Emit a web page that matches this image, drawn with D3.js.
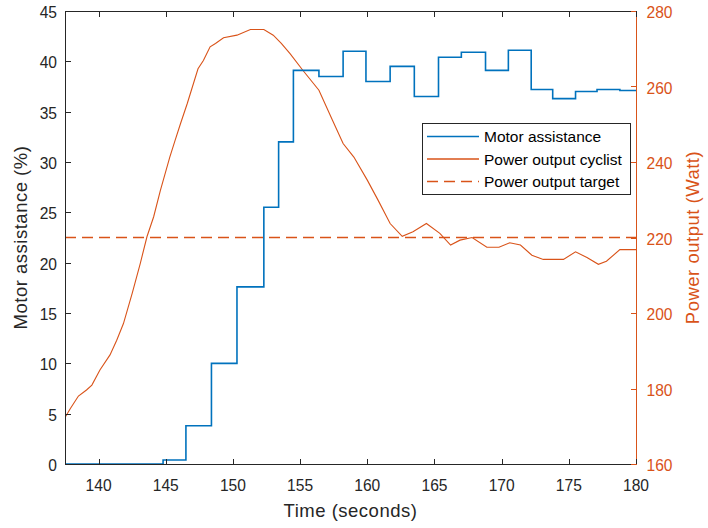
<!DOCTYPE html>
<html>
<head>
<meta charset="utf-8">
<script src="https://cdn.jsdelivr.net/npm/d3@7"></script>
<style>
  body { margin: 0; background: #fff; }
  svg { display: block; font-family: "Liberation Sans", Arial, Helvetica, sans-serif; }
</style>
</head>
<body>
<script>
const width = 708;
const height = 528;
const margin = { top: 11, right: 72, bottom: 64, left: 65 };

// motor assistance (%), stair-step values starting at each time
const stepTimes = [137.5, 144.8, 146.5, 148.4, 150.3, 152.3, 153.4, 154.5, 156.4, 158.2, 159.9, 161.7,
  163.5, 165.3, 167.0, 168.8, 170.5, 172.2, 173.8, 175.5, 177.1, 178.8, 180];
const assistance = [0, 0.4, 3.8, 10.0, 17.6, 25.5, 32.0, 39.1, 38.5, 41.0, 38.0, 39.5,
  36.5, 40.4, 40.9, 39.1, 41.1, 37.2, 36.3, 37.0, 37.2, 37.1, 37.1];

// power output of the cyclist (Watt)
const powerTimes = [137.5, 137.9, 138.5, 139.1, 139.5, 140.1, 140.85, 141.35, 141.85, 142.5, 143.1, 143.6,
  144.1, 144.6, 145.3, 145.7, 146.1, 146.6, 147.4, 147.8, 148.3, 148.7, 149.3, 150.3, 151.3, 152.3,
  153.0, 153.6, 154.25, 155.2, 156.4, 157.4, 158.2, 159.0, 160.0, 160.8, 161.7, 162.6, 163.4, 164.4,
  165.4, 166.2, 166.9, 167.8, 168.9, 169.8, 170.6, 171.4, 172.25, 173.1, 174.6, 175.5, 176.35, 177.2,
  177.8, 178.8, 180];
const power = [172.3, 174.7, 178.0, 179.6, 180.9, 184.9, 188.9, 192.8, 197.2, 205.2, 213.1, 220.2,
  225.5, 232.5, 241.3, 245.8, 250.2, 255.5, 264.7, 266.9, 270.5, 271.4, 272.9, 273.6, 275.1, 275.1,
  273.6, 271.4, 268.7, 264.3, 259.0, 251.1, 244.9, 241.3, 235.2, 229.9, 223.7, 220.3, 221.5, 223.7,
  221.1, 218.0, 219.3, 220.0, 217.4, 217.4, 218.6, 218.0, 215.3, 214.2, 214.2, 216.2, 214.7, 212.9,
  213.7, 216.8, 216.8];

const targetPower = 220;

const xTicks = [140, 145, 150, 155, 160, 165, 170, 175, 180];
const leftTicks = [0, 5, 10, 15, 20, 25, 30, 35, 40, 45];
const rightTicks = [160, 180, 200, 220, 240, 260, 280];

const blue = '#0072BD';
const orange = '#D95319';
const dark = '#262626';

const svg = d3.select('body').append('svg')
  .attr('width', width)
  .attr('height', height);

const x = d3.scaleLinear()
  .domain([137.5, 180])
  .range([margin.left, width - margin.right]);

const yLeft = d3.scaleLinear()
  .domain([0, 45])
  .range([height - margin.bottom, margin.top]);

const yRight = d3.scaleLinear()
  .domain([160, 280])
  .range([height - margin.bottom, margin.top]);

svg.append('defs').append('clipPath')
  .attr('id', 'plot-clip')
  .append('rect')
  .attr('x', margin.left)
  .attr('y', margin.top - 2)
  .attr('width', width - margin.left - margin.right)
  .attr('height', height - margin.top - margin.bottom + 2);

const plot = svg.append('g').attr('clip-path', 'url(#plot-clip)');

// target line
plot.append('line')
  .attr('x1', margin.left)
  .attr('x2', width - margin.right)
  .attr('y1', yRight(targetPower))
  .attr('y2', yRight(targetPower))
  .attr('stroke', orange)
  .attr('stroke-width', 1.3)
  .attr('stroke-dasharray', '11,6');

// cyclist power
plot.append('path')
  .datum(powerTimes.map((t, i) => [t, power[i]]))
  .attr('fill', 'none')
  .attr('stroke', orange)
  .attr('stroke-width', 1.1)
  .attr('d', d3.line().x(d => x(d[0])).y(d => yRight(d[1])));

// motor assistance
plot.append('path')
  .datum(stepTimes.map((t, i) => [t, assistance[i]]))
  .attr('fill', 'none')
  .attr('stroke', blue)
  .attr('stroke-width', 1.6)
  .attr('d', d3.line().curve(d3.curveStepAfter).x(d => x(d[0])).y(d => yLeft(d[1])));

// axes
const x0 = margin.left, x1 = width - margin.right;
const y0 = height - margin.bottom, y1 = margin.top;
const tick = 5.5;

const axes = svg.append('g').attr('shape-rendering', 'crispEdges');

axes.append('line').attr('x1', x0).attr('x2', x1).attr('y1', y0 + 0.5).attr('y2', y0 + 0.5).attr('stroke', dark);
axes.append('line').attr('x1', x0).attr('x2', x1).attr('y1', y1 + 0.5).attr('y2', y1 + 0.5).attr('stroke', dark);
axes.append('line').attr('x1', x0 + 0.5).attr('x2', x0 + 0.5).attr('y1', y1).attr('y2', y0 + 1).attr('stroke', dark);
axes.append('line').attr('x1', x1 + 0.5).attr('x2', x1 + 0.5).attr('y1', y1).attr('y2', y0 + 1).attr('stroke', orange);

for (const t of xTicks) {
  const px = Math.round(x(t)) + 0.5;
  axes.append('line').attr('x1', px).attr('x2', px).attr('y1', y0).attr('y2', y0 - tick).attr('stroke', dark);
  axes.append('line').attr('x1', px).attr('x2', px).attr('y1', y1).attr('y2', y1 + tick).attr('stroke', dark);
}
for (const v of leftTicks) {
  const py = Math.round(yLeft(v)) + 0.5;
  axes.append('line').attr('x1', x0).attr('x2', x0 + tick).attr('y1', py).attr('y2', py).attr('stroke', dark);
}
for (const v of rightTicks) {
  const py = Math.round(yRight(v)) + 0.5;
  axes.append('line').attr('x1', x1).attr('x2', x1 - tick).attr('y1', py).attr('y2', py).attr('stroke', orange);
}

// tick labels
const tickFont = 15.6;

svg.append('g')
  .attr('font-size', tickFont)
  .attr('fill', dark)
  .attr('text-anchor', 'middle')
  .selectAll('text')
  .data(xTicks)
  .join('text')
  .attr('x', d => x(d))
  .attr('y', y0 + 26.5)
  .text(d => d);

svg.append('g')
  .attr('font-size', tickFont)
  .attr('fill', dark)
  .attr('text-anchor', 'end')
  .selectAll('text')
  .data(leftTicks)
  .join('text')
  .attr('x', x0 - 8)
  .attr('y', d => yLeft(d) + 7)
  .text(d => d);

svg.append('g')
  .attr('font-size', tickFont)
  .attr('fill', orange)
  .attr('text-anchor', 'start')
  .selectAll('text')
  .data(rightTicks)
  .join('text')
  .attr('x', x1 + 10.5)
  .attr('y', d => yRight(d) + 7)
  .text(d => d);

// axis titles
svg.append('text')
  .attr('x', (x0 + x1) / 2)
  .attr('y', 517)
  .attr('text-anchor', 'middle')
  .attr('font-size', 18.5)
  .attr('letter-spacing', 0.5)
  .attr('fill', dark)
  .text('Time (seconds)');

svg.append('text')
  .attr('transform', `translate(27,${(y0 + y1) / 2}) rotate(-90)`)
  .attr('text-anchor', 'middle')
  .attr('font-size', 18.5)
  .attr('letter-spacing', 0.5)
  .attr('fill', dark)
  .text('Motor assistance (%)');

svg.append('text')
  .attr('transform', `translate(699,${(y0 + y1) / 2}) rotate(-90)`)
  .attr('text-anchor', 'middle')
  .attr('font-size', 18.5)
  .attr('letter-spacing', 0.5)
  .attr('fill', orange)
  .text('Power output (Watt)');

// legend
const legendItems = [
  { label: 'Motor assistance', color: blue, dash: null },
  { label: 'Power output cyclist', color: orange, dash: null },
  { label: 'Power output target', color: orange, dash: '11,6' }
];

const legend = svg.append('g').attr('transform', 'translate(422,123)');
legend.append('rect')
  .attr('x', 0.5)
  .attr('y', 0.5)
  .attr('width', 208)
  .attr('height', 71)
  .attr('fill', '#fff')
  .attr('stroke', dark)
  .attr('stroke-width', 1);

legendItems.forEach((d, i) => {
  const cy = 13.5 + i * 22.5;
  legend.append('line')
    .attr('x1', 5)
    .attr('x2', 57)
    .attr('y1', cy)
    .attr('y2', cy)
    .attr('stroke', d.color)
    .attr('stroke-width', 1.3)
    .attr('stroke-dasharray', d.dash);
  legend.append('text')
    .attr('x', 62)
    .attr('y', cy + 5.5)
    .attr('font-size', 15.5)
    .attr('fill', '#000')
    .text(d.label);
});
</script>
</body>
</html>
